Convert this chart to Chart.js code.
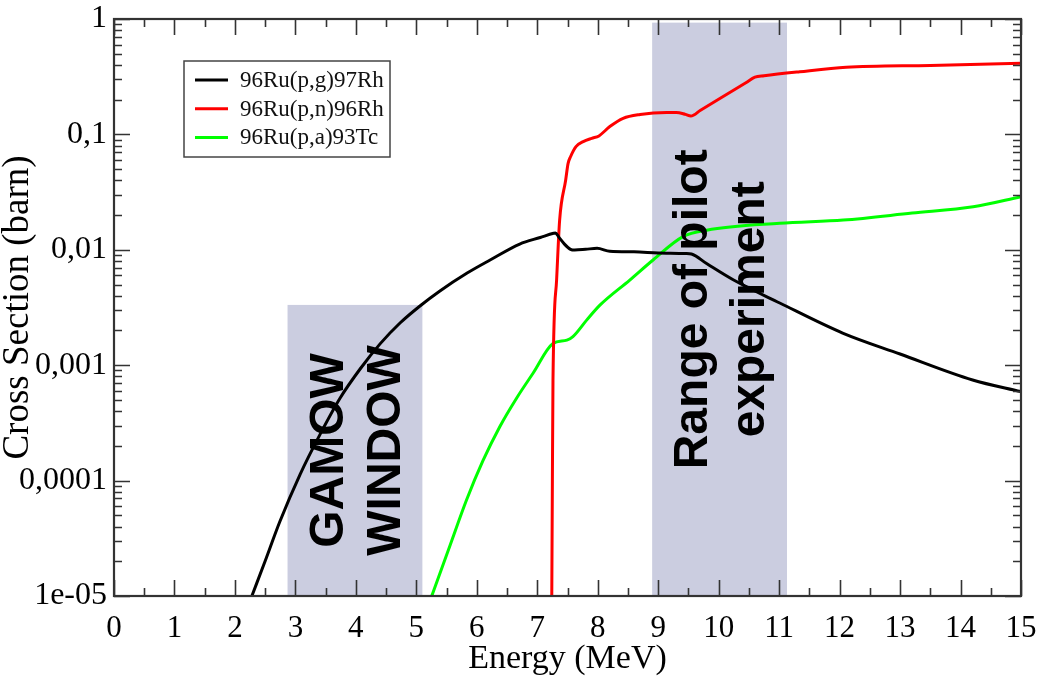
<!DOCTYPE html>
<html>
<head>
<meta charset="utf-8">
<script src="https://cdn.jsdelivr.net/npm/chart.js@4.4.1/dist/chart.umd.min.js"></script>
<style>
  html, body { margin: 0; padding: 0; background: #ffffff; }
  #wrap { width: 1039px; height: 679px; position: relative; }
</style>
</head>
<body>
<div id="wrap"><canvas id="c"></canvas></div>
<script>
// ---- data ----
const seriesNames = ['96Ru(p,g)97Rh', '96Ru(p,n)96Rh', '96Ru(p,a)93Tc'];
const seriesColors = ['#000000', '#ff0000', '#00ff00'];

const energyPG = [2.28, 2.5, 2.74, 3.08, 3.41, 3.74, 4.07, 4.4, 4.73, 5.06, 5.39, 5.84, 6.22, 6.71, 7.05, 7.27, 7.3, 7.36, 7.45, 7.55, 7.62, 7.8, 7.99, 8.2, 8.6, 9.0, 9.45, 9.55, 9.8, 10.24, 11.01, 12.05, 13.0, 14.2, 15.0];
const xsPG     = [1e-5, 2.01e-5, 4.38e-5, 1.14e-4, 2.53e-4, 5.2e-4, 9.27e-4, 1.53e-3, 2.32e-3, 3.26e-3, 4.4e-3, 6.29e-3, 8.16e-3, 0.01122, 0.01279, 0.0139, 0.014, 0.0128, 0.0112, 0.0101, 0.00995, 0.0101, 0.0103, 0.0097, 0.0096, 0.0094, 0.0093, 0.0092, 0.0076, 0.0055, 0.00346, 0.0019, 0.00125, 7.45e-4, 5.9e-4];

const energyPN = [7.24, 7.25, 7.26, 7.32, 7.37, 7.47, 7.51, 7.55, 7.64, 7.76, 7.90, 8.02, 8.20, 8.42, 8.70, 9.14, 9.30, 9.45, 9.54, 9.7, 10.45, 10.6, 10.75, 11.34, 12.11, 13.5, 15.0];
const xsPN     = [1e-5, 1e-4, 7.4e-4, 5.5e-3, 0.0181, 0.0403, 0.0561, 0.064, 0.0783, 0.0865, 0.0925, 0.097, 0.117, 0.138, 0.149, 0.155, 0.155, 0.149, 0.144, 0.162, 0.28, 0.313, 0.322, 0.349, 0.381, 0.396, 0.413];

const energyPA = [5.255, 5.56, 5.83, 6.1, 6.38, 6.66, 6.93, 7.26, 7.49, 7.59, 7.82, 8.04, 8.53, 8.92, 9.41, 9.8, 11.01, 12.06, 13.2, 14.21, 15.0];
const xsPA     = [1e-5, 2.77e-5, 6.79e-5, 1.48e-4, 2.93e-4, 5.2e-4, 8.51e-4, 1.54e-3, 1.65e-3, 1.77e-3, 2.47e-3, 3.33e-3, 5.47e-3, 8.2e-3, 0.013, 0.0148, 0.017, 0.0181, 0.0208, 0.0236, 0.0289];

const xTickValues = [0,1,2,3,4,5,6,7,8,9,10,11,12,13,14,15];
const yTickValues = [1e-5, 1e-4, 1e-3, 1e-2, 1e-1, 1];
const yTickLabels = ['1e-05', '0,0001', '0,001', '0,01', '0,1', '1'];

const bandFrom  = [2.87, 8.9];
const bandTo    = [5.1, 11.13];
const bandTop   = [0.00333, 0.93];
const bandTexts = [['GAMOW', 'WINDOW'], ['Range of pilot', 'experiment']];

// ---- chart ----
const datasets = [
  { x: energyPG, y: xsPG },
  { x: energyPN, y: xsPN },
  { x: energyPA, y: xsPA }
].map((s, i) => ({
  label: seriesNames[i],
  data: s.x.map((e, k) => ({ x: e, y: s.y[k] })),
  borderColor: seriesColors[i],
  backgroundColor: seriesColors[i],
  borderWidth: 3,
  pointRadius: 0,
  cubicInterpolationMode: 'monotone',
  fill: false
}));

const serif = '"Liberation Serif", "DejaVu Serif", serif';
const frameColor = '#333333';

function noOverflow(s) {
  s.paddingTop = 0; s.paddingBottom = 0; s.paddingLeft = 0; s.paddingRight = 0;
}

const decor = {
  id: 'decor',
  beforeDatasetsDraw(chart) {
    const { ctx, chartArea: a, scales: { x, y } } = chart;
    ctx.save();
    ctx.beginPath();
    ctx.rect(a.left, a.top, a.right - a.left, a.bottom - a.top);
    ctx.clip();
    ctx.fillStyle = 'rgb(203,205,224)';
    for (let i = 0; i < bandFrom.length; i++) {
      const x0 = x.getPixelForValue(bandFrom[i]);
      const x1 = x.getPixelForValue(bandTo[i]);
      const y0 = y.getPixelForValue(bandTop[i]);
      ctx.fillRect(x0, y0, x1 - x0, a.bottom - y0);
    }
    ctx.restore();
  },
  afterDatasetsDraw(chart) {
    const { ctx, chartArea: a, scales: { x, y } } = chart;
    ctx.save();
    // band labels
    ctx.fillStyle = '#000';
    ctx.font = 'bold 48px "Liberation Sans", Arial, sans-serif';
    ctx.textAlign = 'center';
    ctx.textBaseline = 'middle';
    for (let i = 0; i < bandFrom.length; i++) {
      const cx = (x.getPixelForValue(bandFrom[i]) + x.getPixelForValue(bandTo[i])) / 2 + 1;
      const cy = (y.getPixelForValue(bandTop[i]) + a.bottom) / 2;
      ctx.save();
      ctx.translate(cx, cy);
      ctx.rotate(-Math.PI / 2);
      const lines = bandTexts[i];
      const gap = 57;
      lines.forEach((t, k) => {
        ctx.fillText(t, 0, (k - (lines.length - 1) / 2) * gap + 2);
      });
      ctx.restore();
    }
    // inward ticks
    ctx.strokeStyle = frameColor;
    ctx.lineWidth = 1.6;
    ctx.beginPath();
    for (let v = 0; v <= 15; v += 0.5) {
      const px = Math.round(x.getPixelForValue(v)) + 0.5;
      const len = Number.isInteger(v) ? 16 : 8;
      ctx.moveTo(px, a.bottom); ctx.lineTo(px, a.bottom - len);
      ctx.moveTo(px, a.top); ctx.lineTo(px, a.top + len);
    }
    for (let d = -5; d <= 0; d++) {
      for (let m = 1; m <= 9; m++) {
        if (d === 0 && m > 1) break;
        const v = m * Math.pow(10, d);
        const py = Math.round(y.getPixelForValue(v)) + 0.5;
        const len = m === 1 ? 16 : 8;
        ctx.moveTo(a.left, py); ctx.lineTo(a.left + len, py);
        ctx.moveTo(a.right, py); ctx.lineTo(a.right - len, py);
      }
    }
    ctx.stroke();
    // frame
    ctx.lineWidth = 2.2;
    ctx.strokeRect(a.left, a.top, a.right - a.left, a.bottom - a.top);
    // legend
    const lx = 184, ly = 61, lw = 206, lh = 96;
    ctx.fillStyle = '#ffffff';
    ctx.fillRect(lx, ly, lw, lh);
    ctx.lineWidth = 1.5;
    ctx.strokeStyle = '#444';
    ctx.strokeRect(lx, ly, lw, lh);
    ctx.font = '23px ' + serif;
    ctx.textAlign = 'left';
    ctx.textBaseline = 'middle';
    chart.data.datasets.forEach((ds, i) => {
      const ry = ly + 19 + i * 28.7;
      ctx.strokeStyle = ds.borderColor;
      ctx.lineWidth = 3;
      ctx.beginPath();
      ctx.moveTo(lx + 11, ry); ctx.lineTo(lx + 44, ry);
      ctx.stroke();
      ctx.fillStyle = '#111';
      ctx.fillText(ds.label, lx + 56, ry + 1);
    });
    ctx.restore();
  }
};

new Chart(document.getElementById('c'), {
  type: 'line',
  data: { datasets },
  options: {
    responsive: true,
    maintainAspectRatio: false,
    animation: false,
    events: [],
    layout: { padding: { top: 19, right: 18, left: 0, bottom: 0 } },
    plugins: { legend: { display: false }, tooltip: { enabled: false } },
    scales: {
      x: {
        type: 'linear',
        min: 0, max: 15,
        afterFit(s) { s.height = 83; noOverflow(s); },
        afterBuildTicks(s) { s.ticks = xTickValues.map(v => ({ value: v })); },
        grid: { display: false, drawTicks: false },
        border: { display: false },
        ticks: {
          color: '#000',
          font: { family: serif, size: 31 },
          padding: 14,
          maxRotation: 0,
          autoSkip: false
        },
        title: {
          display: true,
          text: 'Energy (MeV)',
          color: '#000',
          font: { family: serif, size: 34, lineHeight: 1 },
          padding: { top: 0, bottom: 3 }
        }
      },
      y: {
        type: 'logarithmic',
        min: 1e-5, max: 1,
        afterFit(s) { s.width = 114; noOverflow(s); },
        afterBuildTicks(s) { s.ticks = yTickValues.map(v => ({ value: v })); },
        grid: { display: false, drawTicks: false },
        border: { display: false },
        ticks: {
          color: '#000',
          font: { family: serif, size: 32 },
          padding: 7,
          autoSkip: false,
          callback(v) {
            const i = yTickValues.findIndex(t => Math.abs(Math.log10(t) - Math.log10(v)) < 1e-6);
            return i >= 0 ? yTickLabels[i] : '';
          }
        },
        title: {
          display: true,
          text: 'Cross Section (barn)',
          color: '#000',
          font: { family: serif, size: 37, lineHeight: 1 },
          padding: { top: 0, bottom: 0 }
        }
      }
    }
  },
  plugins: [decor]
});
</script>
</body>
</html>
